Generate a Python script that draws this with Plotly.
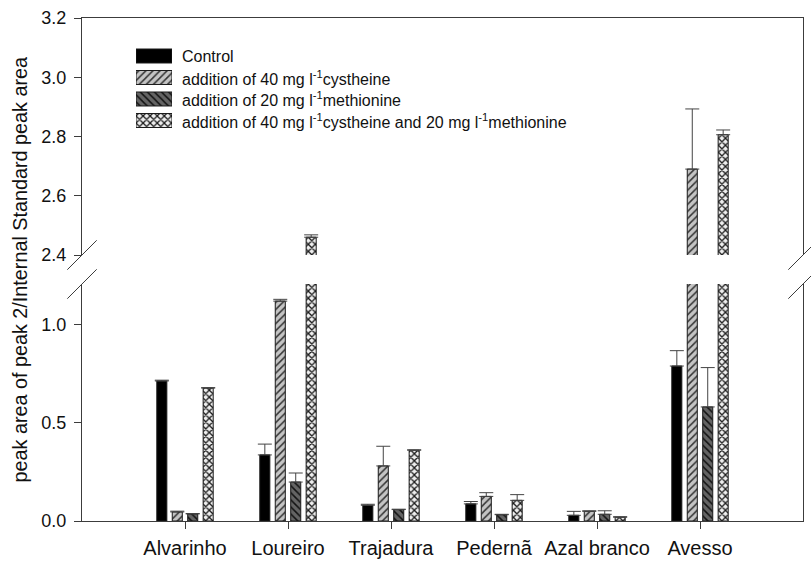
import plotly.graph_objects as go

categories = ["Alvarinho", "Loureiro", "Trajadura", "Pedernã", "Azal branco", "Avesso"]

series_names = [
    "Control",
    "addition of 40 mg l<sup>-1</sup>cystheine",
    "addition of 20 mg l<sup>-1</sup>methionine",
    "addition of 40 mg l<sup>-1</sup>cystheine and 20 mg l<sup>-1</sup>methionine",
]

control = [0.712, 0.336, 0.080, 0.087, 0.029, 0.788]
control_err = [0.004, 0.055, 0.005, 0.012, 0.020, 0.078]
cyst = [0.046, 1.118, 0.280, 0.125, 0.049, 2.690]
cyst_err = [0.004, 0.009, 0.100, 0.019, 0.003, 0.203]
meth = [0.036, 0.198, 0.058, 0.032, 0.034, 0.580]
meth_err = [0.002, 0.046, 0.002, 0.002, 0.018, 0.200]
comb = [0.676, 2.460, 0.360, 0.105, 0.019, 2.806]
comb_err = [0.002, 0.008, 0.002, 0.029, 0.003, 0.016]

values = [control, cyst, meth, comb]
errors = [control_err, cyst_err, meth_err, comb_err]

lower_ticks = [0.0, 0.5, 1.0]
upper_ticks = [2.4, 2.6, 2.8, 3.0, 3.2]

# styles
pat_shape = ["", "/", "\\", "x"]
pat_bg = ["#000000", "#c4c4c4", "#646464", "#eeeeee"]
pat_fg = ["#000000", "#333333", "#111111", "#1a1a1a"]
pat_size = [6, 5, 5, 5]
pat_sol = [0.3, 0.3, 0.3, 0.45]

FONT = "Liberation Sans, Arial, Helvetica, sans-serif"
AX = "#3c3c3c"

W, H = 811, 561
ML, MR, MT, MB = 82, 8, 18, 40
PW = W - ML - MR
PH = H - MT - MB

def fy(pix):  # pixel y -> paper
    return (H - MB - pix) / PH

def fx(pix):
    return (pix - ML) / PW

def bar_marker(i):
    return dict(
        color=pat_bg[i],
        line=dict(color="#1a1a1a", width=1),
        pattern=dict(shape=pat_shape[i], bgcolor=pat_bg[i], fgcolor=pat_fg[i],
                     size=pat_size[i], solidity=pat_sol[i], fillmode="replace"),
    )

fig = go.Figure()

for (xa, ya) in [("x", "y2"), ("x2", "y")]:
    for i in range(4):
        fig.add_trace(go.Bar(
            x=categories, y=values[i], xaxis=xa, yaxis=ya,
            name=series_names[i], showlegend=False,
            marker=bar_marker(i),
            error_y=dict(type="data", symmetric=False, array=errors[i],
                         arrayminus=[0] * len(errors[i]),
                         color="#444444", thickness=1, width=7),
        ))

# inset legend drawn as horizontal bars
for i in range(4):
    fig.add_trace(go.Bar(
        y=[series_names[i]], x=[1], orientation="h", xaxis="x3", yaxis="y3",
        width=0.65, offsetgroup="legend", showlegend=False, hoverinfo="skip",
        marker=bar_marker(i),
    ))
    fig.add_annotation(x=fx(180), xref="paper", y=series_names[i], yref="y3",
                       text=series_names[i], showarrow=False, xanchor="left",
                       yanchor="middle",
                       font=dict(family=FONT, size=16, color="#111111"))

fig.add_annotation(x=fx(19), xref="paper", y=0.5, yref="paper",
                   text="peak area of peak 2/Internal Standard peak area",
                   textangle=-90, showarrow=False, xanchor="center", yanchor="middle",
                   font=dict(family=FONT, size=19.8, color="#111111"))

# axis break marks
d = 14.7
for xp in [ML, ML + PW]:
    for yp in [255, 284]:
        fig.add_shape(type="line", xref="paper", yref="paper",
                      x0=fx(xp - d), y0=fy(yp + d), x1=fx(xp + d), y1=fy(yp - d),
                      line=dict(color=AX, width=1))

fig.update_layout(
    width=W, height=H,
    margin=dict(l=ML, r=MR, t=MT, b=MB, autoexpand=False),
    paper_bgcolor="white", plot_bgcolor="white",
    barmode="group", bargap=0.4, bargroupgap=0.35,
    font=dict(family=FONT, color="#111111"),
    xaxis=dict(domain=[0, 1], anchor="y2", range=[-1, 6], type="category",
               showline=True, linecolor=AX, linewidth=1, ticks="outside", ticklen=7,
               tickcolor=AX, showgrid=False, zeroline=False, ticklabelstandoff=2,
               tickfont=dict(family=FONT, size=20, color="#111111")),
    xaxis2=dict(domain=[0, 1], anchor="y", matches="x", type="category", side="top",
                showline=True, linecolor=AX, linewidth=1, ticks="", showticklabels=False,
                showgrid=False, zeroline=False),
    yaxis=dict(domain=[fy(255), 1], anchor="x2", range=[2.4, 3.2], tickvals=upper_ticks,
               tickformat=".1f", showline=True, mirror=True, linecolor=AX, linewidth=1,
               ticks="outside", ticklen=7, tickcolor=AX, showgrid=False, zeroline=False,
               ticklabelstandoff=4,
               tickfont=dict(family=FONT, size=18, color="#111111")),
    yaxis2=dict(domain=[0, fy(284)], anchor="x", range=[0, 1.205], tickvals=lower_ticks,
                tickformat=".1f", showline=True, mirror=True, linecolor=AX, linewidth=1,
                ticks="outside", ticklen=7, tickcolor=AX, showgrid=False, zeroline=False,
                ticklabelstandoff=4,
                tickfont=dict(family=FONT, size=18, color="#111111")),
    xaxis3=dict(domain=[fx(136), fx(172)], anchor="y3", range=[0, 1], visible=False,
                fixedrange=True),
    yaxis3=dict(domain=[fy(45.25 + 86), fy(45.25)], anchor="x3", range=[3.5, -0.5],
                type="category", visible=False, fixedrange=True),
)

fig.write_html("out.html", config={"displayModeBar": False},
               post_script="document.body.style.margin='0';document.body.style.overflow='hidden';")
